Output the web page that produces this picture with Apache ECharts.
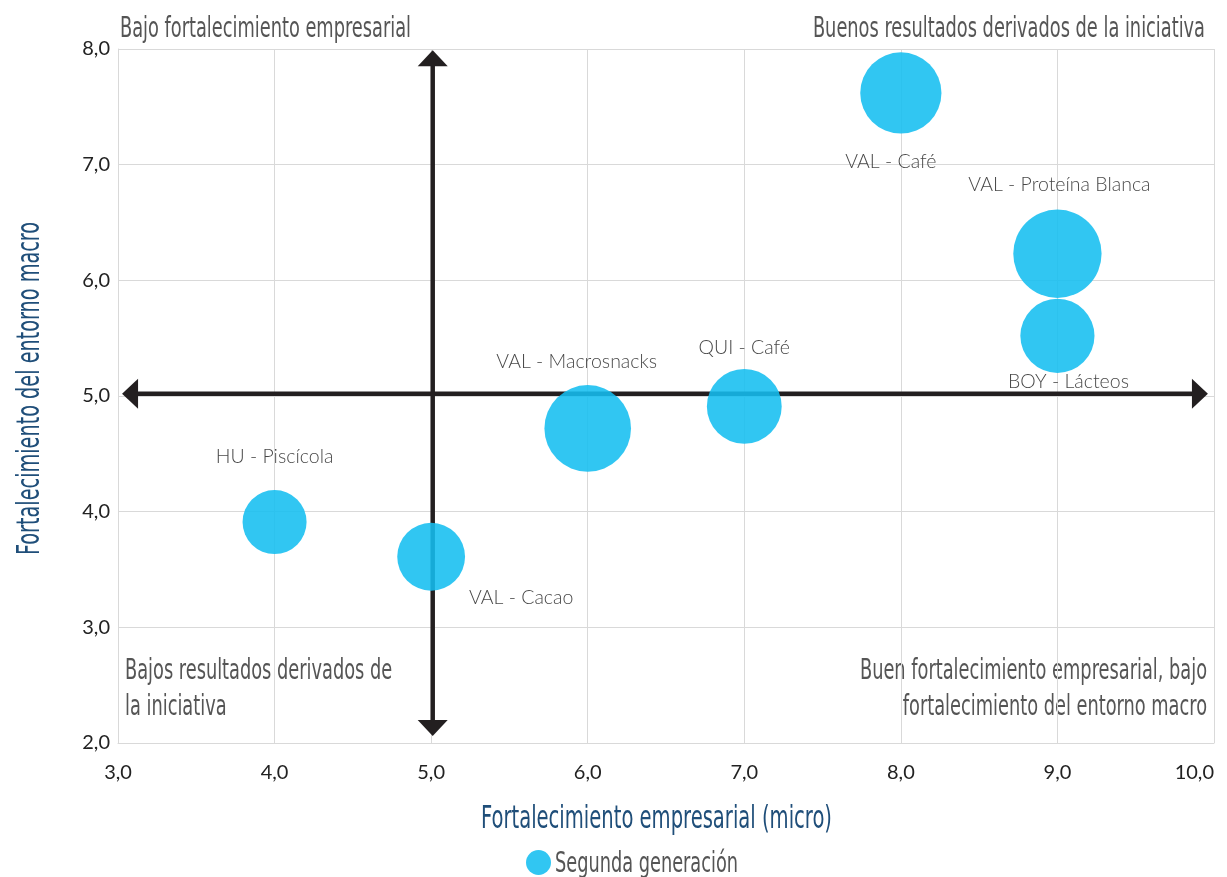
<!DOCTYPE html>
<html><head><meta charset="utf-8">
<script src="https://cdn.jsdelivr.net/npm/echarts@6/dist/echarts.min.js"></script>
<style>html,body{margin:0;padding:0;background:#fff}#c{width:1227px;height:877px}</style>
</head><body><div id="c"></div>
<script>
// ---- data ----
const names = ['HU - Piscícola','VAL - Cacao','VAL - Macrosnacks','QUI - Café','VAL - Café','VAL - Proteína Blanca','BOY - Lácteos'];
const xValues = [4, 5, 6, 7, 8, 9, 9];
const yValues = [3.91, 3.61, 4.72, 4.91, 7.62, 6.23, 5.52];
const bubbleValues = [41, 46, 75, 56, 66, 78, 55];
const seriesName = 'Segunda generación';
const xAxisTitle = 'Fortalecimiento empresarial (micro)';
const yAxisTitle = 'Fortalecimiento del entorno macro';
const quadrantTL = 'Bajo fortalecimiento empresarial';
const quadrantTR = 'Buenos resultados derivados de la iniciativa';
const quadrantBL = ['Bajos resultados derivados de', 'la iniciativa'];
const quadrantBR = ['Buen fortalecimiento empresarial, bajo', 'fortalecimiento del entorno macro'];
const hArrow = [[3.077, 5.02], [9.91, 5.02]];
const vArrow = [[5.01, 7.92], [5.01, 2.13]];

// ---- layout (not data) ----
const labelOffsets = [[0,-65],[90,41],[-11,-67],[0,-59],[-10,69],[2,-69],[11,46]];
const condensed = '"Noto Sans ExtraCondensed","Noto Sans Condensed","DejaVu Sans Condensed","Liberation Sans Narrow",sans-serif';
const fmt = v => v.toFixed(1).replace('.', ',');
const ctx = document.createElement('canvas').getContext('2d');
function measure(text, font) { ctx.font = font; return ctx.measureText(text).width; }
// horizontal squeeze so that text reaches a target width (emulating a condensed face)
function squeeze(text, size, target) { return Math.min(1, target / measure(text, size + 'px ' + condensed)); }

const qSize = 28, qScale = squeeze(quadrantTL, qSize, 291);
const tSize = 32;

function qText(lines, x, y, align) {
  return {type:'text', x:x, y:y, scaleX:qScale, silent:true,
    style:{text:lines.join('\n'), font:qSize + 'px ' + condensed, fill:'#555', align:align, verticalAlign:'top', lineHeight:36}};
}

const chart = echarts.init(document.getElementById('c'), null, {renderer:'canvas'});
const arrowStyle = {color:'#231f20', width:4.5};
const arrowSym = (rot) => ({symbol:'triangle', symbolSize:[30,16], symbolRotate:rot, itemStyle:{color:'#231f20', opacity:1}});

chart.setOption({
  animation:false,
  backgroundColor:'#fff',
  grid:{left:118, right:13, top:49, bottom:134, containLabel:false, outerBoundsMode:'none'},
  xAxis:{
    type:'value', min:3, max:10, interval:1,
    axisLine:{show:true, lineStyle:{color:'#d9d9d9', width:1}},
    axisTick:{show:false},
    axisLabel:{formatter:fmt, fontFamily:'Lato', fontSize:20, color:'#222', margin:20, alignMaxLabel:'right'},
    splitLine:{show:true, lineStyle:{color:'#d9d9d9', width:1}}
  },
  yAxis:{
    type:'value', min:2, max:8, interval:1,
    axisLine:{show:true, lineStyle:{color:'#d9d9d9', width:1}},
    axisTick:{show:false},
    axisLabel:{formatter:fmt, fontFamily:'Lato', fontSize:20, color:'#222', margin:8},
    splitLine:{show:true, lineStyle:{color:'#d9d9d9', width:1}}
  },
  legend:{
    data:[seriesName], left:521, top:845, icon:'circle', itemWidth:25, itemHeight:25, itemGap:0,
    formatter:() => '', textStyle:{fontSize:1}
  },
  graphic:[
    qText([quadrantTL], 120, 12, 'left'),
    qText([quadrantTR], 1205, 12, 'right'),
    qText(quadrantBL, 125, 654, 'left'),
    qText(quadrantBR, 1207, 654, 'right'),
    {type:'text', x:656.5, y:820, scaleX:squeeze(xAxisTitle, tSize, 351), silent:true,
     style:{text:xAxisTitle, font:tSize + 'px ' + condensed, fill:'#1f4e79', align:'center', verticalAlign:'middle'}},
    {type:'text', x:31, y:388.5, rotation:Math.PI/2, scaleX:squeeze(yAxisTitle, tSize, 333), silent:true,
     style:{text:yAxisTitle, font:tSize + 'px ' + condensed, fill:'#1f4e79', align:'center', verticalAlign:'middle'}},
    // legend label (series name), condensed like the rest of the headings
    {type:'text', x:555, y:865, scaleX:squeeze(seriesName, qSize, 183), silent:true,
     style:{text:seriesName, font:qSize + 'px ' + condensed, fill:'#555', align:'left', verticalAlign:'middle'}}
  ],
  series:[
    {type:'line', silent:true, z:1, lineStyle:arrowStyle, showSymbol:true,
     data:[Object.assign({value:hArrow[0]}, arrowSym(90)), Object.assign({value:hArrow[1]}, arrowSym(-90))]},
    {type:'line', silent:true, z:1, lineStyle:arrowStyle, showSymbol:true,
     data:[Object.assign({value:vArrow[0]}, arrowSym(0)), Object.assign({value:vArrow[1]}, arrowSym(180))]},
    {
      name:seriesName, type:'scatter', z:5,
      itemStyle:{color:'#14bef0', opacity:0.88},
      symbolSize:(v, p) => Math.sqrt(bubbleValues[p.dataIndex]) * 10,
      label:{show:true, position:'inside', formatter:p => names[p.dataIndex],
             fontFamily:'Lato', fontWeight:300, fontSize:19.5, color:'#2e2e2e'},
      data:xValues.map((x,i) => ({value:[x, yValues[i]], label:{offset:labelOffsets[i]}}))
    }
  ]
});
</script></body></html>
